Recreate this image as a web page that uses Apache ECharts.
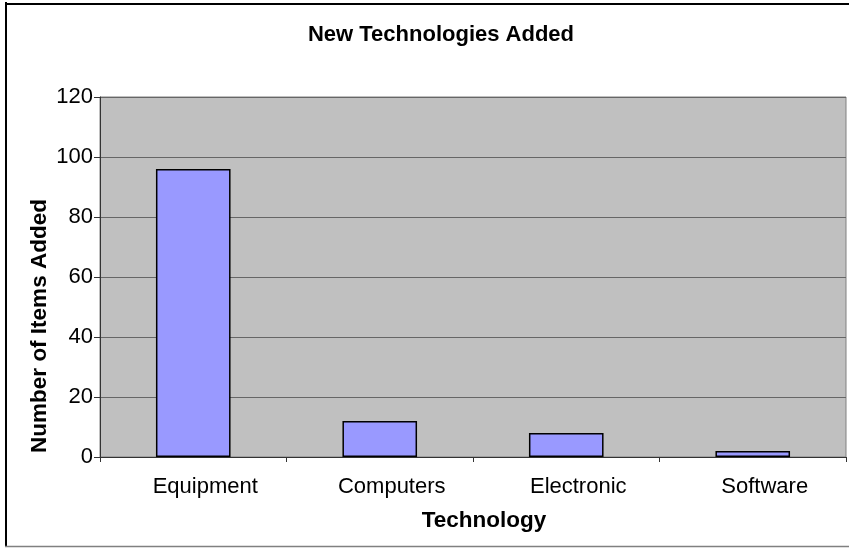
<!DOCTYPE html>
<html>
<head>
<meta charset="utf-8">
<title>New Technologies Added</title>
<script src="https://cdn.jsdelivr.net/npm/echarts@6/dist/echarts.min.js"></script>
<style>
  html, body { margin: 0; padding: 0; background: #fff; }
  #chart { width: 849px; height: 548px; }
</style>
</head>
<body>
<div id="chart"></div>
<script>
// Items added per technology type
const categories = ['Equipment', 'Computers', 'Electronic', 'Software'];
const itemsAdded = [96, 12, 8, 2];
const yTicks = { min: 0, max: 120, interval: 20 };

const chartTitle = 'New Technologies Added';
const xTitle = 'Technology';
const yTitle = 'Number of Items Added';

const FONT = 'Arial, "Liberation Sans", sans-serif';

const chart = echarts.init(document.getElementById('chart'), null, { renderer: 'canvas' });

chart.setOption({
  backgroundColor: '#ffffff',
  animation: false,
  title: {
    text: chartTitle,
    left: 441,
    top: 24,
    textAlign: 'center',
    padding: 0,
    textStyle: { fontFamily: FONT, fontSize: 22, fontWeight: 'bold', color: '#000' }
  },
  grid: {
    left: 100, top: 97, right: 3, bottom: 91,
    show: true,
    backgroundColor: '#c0c0c0',
    borderColor: '#808080',
    borderWidth: 1
  },
  xAxis: {
    type: 'category',
    data: categories,
    name: xTitle,
    nameLocation: 'middle',
    nameGap: 52,
    nameTextStyle: {
      fontFamily: FONT, fontSize: 22.5, fontWeight: 'bold', color: '#000',
      padding: [0, 0, 0, 22]
    },
    axisLine: { show: true, lineStyle: { color: '#333', width: 1 } },
    axisTick: { show: true, length: 5, lineStyle: { color: '#333' } },
    axisLabel: {
      fontFamily: FONT, fontSize: 22, color: '#000', margin: 19,
      padding: [0, 0, 0, 24]
    },
    splitLine: { show: false }
  },
  yAxis: {
    type: 'value',
    min: yTicks.min,
    max: yTicks.max,
    interval: yTicks.interval,
    axisLine: { show: true, lineStyle: { color: '#333', width: 1 } },
    axisTick: { show: true, length: 6, lineStyle: { color: '#333' } },
    axisLabel: {
      fontFamily: FONT, fontSize: 22, color: '#000', margin: 7,
      padding: [6, 0, 0, 0]
    },
    splitLine: { show: true, lineStyle: { color: '#666', width: 1 } }
  },
  series: [{
    type: 'bar',
    data: itemsAdded,
    barWidth: '40%',
    itemStyle: { color: '#9999ff', borderColor: '#000', borderWidth: 1.5 }
  }],
  graphic: [
    // frame around the whole chart
    { type: 'line', shape: { x1: 6, y1: 2, x2: 6, y2: 547 }, style: { stroke: '#000', lineWidth: 2 } },
    { type: 'line', shape: { x1: 5, y1: 4, x2: 849, y2: 4 }, style: { stroke: '#000', lineWidth: 2 } },
    { type: 'line', shape: { x1: 5, y1: 546.5, x2: 849, y2: 546.5 }, style: { stroke: '#808080', lineWidth: 1.5 } },
    {
      type: 'text',
      x: 40, y: 326,
      rotation: Math.PI / 2,
      style: {
        text: yTitle,
        fontFamily: FONT, fontSize: 22.5, fontWeight: 'bold', fill: '#000',
        align: 'center', verticalAlign: 'middle'
      }
    }
  ]
});
</script>
</body>
</html>
